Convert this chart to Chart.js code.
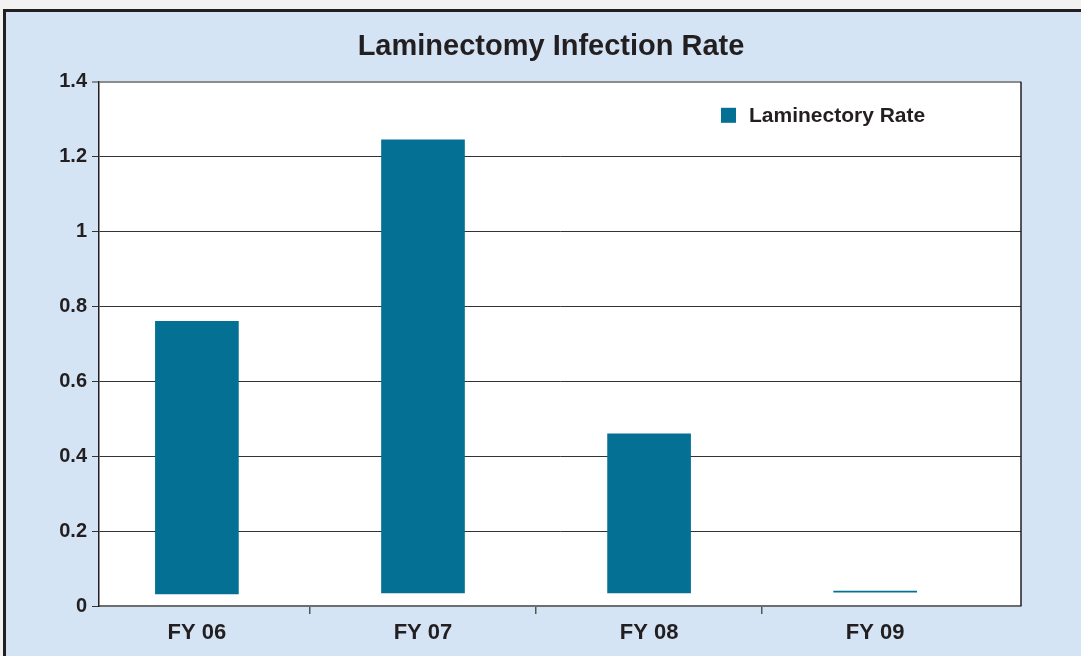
<!DOCTYPE html>
<html>
<head>
<meta charset="utf-8">
<script src="https://cdn.jsdelivr.net/npm/chart.js@4"></script>
<style>
  html, body { margin: 0; padding: 0; background: #f2f2f2; }
  #wrap { position: relative; width: 1081px; height: 656px; }
</style>
</head>
<body>
<div id="wrap"><canvas id="rate" width="1081" height="656"></canvas></div>
<script>
// chart values
const categories = ['FY 06', 'FY 07', 'FY 08', 'FY 09'];
const catPositions = [0, 1, 2, 3];
const barTops = [0.76, 1.245, 0.46, 0.04];
const barBases = [0.032, 0.035, 0.035, 0.037];
const xTickValues = [0, 0.5, 1, 1.5, 2, 2.5, 3];
const seriesLabel = 'Laminectory Rate';

document.addEventListener("DOMContentLoaded", function () {
    const ctx = document.getElementById('rate').getContext('2d');
    const blue = '#037094';
    const fontFamily = '"Liberation Sans", Arial, sans-serif';

    // frame, light blue panel and white plot area
    const background = {
        id: 'background',
        beforeDraw(chart) {
            const c = chart.ctx;
            const a = chart.chartArea;
            c.save();
            c.fillStyle = '#f2f2f2';
            c.fillRect(0, 0, chart.width, chart.height);
            c.fillStyle = '#d4e4f4';
            c.fillRect(4, 10, chart.width, chart.height);
            c.fillStyle = '#231f20';
            c.fillRect(3, 9, chart.width, 3);
            c.fillRect(3, 9, 3, chart.height);
            c.fillStyle = '#ffffff';
            c.fillRect(a.left, a.top, a.right - a.left, a.bottom - a.top);
            c.restore();
        },
        afterDraw(chart) {
            const c = chart.ctx;
            const a = chart.chartArea;
            c.save();
            c.strokeStyle = '#231f20';
            c.lineWidth = 1.5;
            c.beginPath();
            c.moveTo(a.right, a.top);
            c.lineTo(a.right, a.bottom);
            c.stroke();
            c.restore();
        }
    };

    // legend drawn inside the plot area
    const innerLegend = {
        id: 'innerLegend',
        afterDatasetsDraw(chart) {
            const c = chart.ctx;
            const a = chart.chartArea;
            const ds = chart.data.datasets[0];
            c.save();
            c.fillStyle = ds.backgroundColor;
            c.fillRect(a.left + 622, a.top + 26, 15, 15);
            c.fillStyle = '#231f20';
            c.font = 'bold 21px ' + fontFamily;
            c.textBaseline = 'middle';
            c.fillText(ds.label, a.left + 650, a.top + 34);
            c.restore();
        }
    };

    new Chart(ctx, {
        type: 'bar',
        data: {
            datasets: [{
                label: seriesLabel,
                data: catPositions.map((x, i) => ({ x: x, y: [barBases[i], barTops[i]] })),
                backgroundColor: blue,
                borderWidth: 0,
                barThickness: 83
            }]
        },
        options: {
            responsive: false,
            animation: false,
            // left padding keeps the title centred where the reference has it
            layout: { padding: { left: 21, right: 0, top: 0, bottom: 0 } },
            plugins: {
                legend: { display: false },
                tooltip: { enabled: false },
                title: {
                    display: true,
                    text: 'Laminectomy Infection Rate',
                    color: '#231f20',
                    font: { family: fontFamily, size: 29, weight: 'bold' },
                    padding: { top: 30, bottom: 17 }
                }
            },
            scales: {
                x: {
                    type: 'linear',
                    position: 'bottom',
                    offset: false,
                    min: -0.433,
                    max: 3.645,
                    afterBuildTicks: (scale) => {
                        scale.ticks = xTickValues.map(v => ({ value: v }));
                    },
                    afterFit: (scale) => { scale.height = 50; },
                    ticks: {
                        autoSkip: false,
                        maxRotation: 0,
                        padding: 6,
                        color: '#231f20',
                        font: { family: fontFamily, size: 22, weight: 'bold' },
                        callback: (value) => Number.isInteger(value) ? categories[value] : ''
                    },
                    grid: {
                        offset: false,
                        drawOnChartArea: false,
                        tickLength: 8,
                        lineWidth: 1.5,
                        color: (c) => (c.tick && !Number.isInteger(c.tick.value)) ? '#555555' : 'rgba(0,0,0,0)'
                    },
                    border: { color: '#6d6e71', width: 2 }
                },
                y: {
                    min: 0,
                    max: 1.4,
                    afterFit: (scale) => { scale.width = 78; },
                    ticks: {
                        stepSize: 0.2,
                        padding: 5,
                        color: '#231f20',
                        font: { family: fontFamily, size: 20, weight: 'bold' },
                        callback: (value) => String(Number(value.toFixed(1)))
                    },
                    grid: {
                        tickLength: 7,
                        color: (c) => c.tick && c.tick.value >= 1.4 ? '#8c8c8c' : '#333333',
                        lineWidth: (c) => c.tick && c.tick.value >= 1.4 ? 2 : 1
                    },
                    border: { color: '#231f20', width: 1.5 }
                },
                // empty right axis, only reserves the blue margin right of the plot
                spacer: {
                    type: 'linear',
                    position: 'right',
                    afterFit: (scale) => { scale.width = 60; },
                    ticks: { display: false },
                    grid: { display: false },
                    border: { display: false }
                }
            }
        },
        plugins: [background, innerLegend]
    });
});
</script>
</body>
</html>
